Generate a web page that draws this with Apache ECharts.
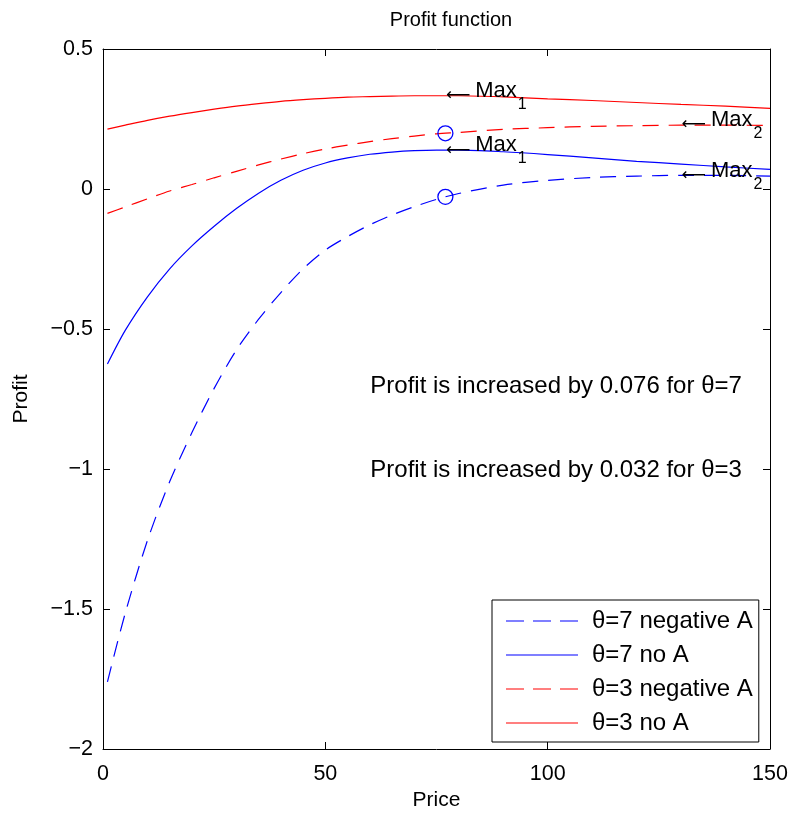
<!DOCTYPE html>
<html><head><meta charset="utf-8">
<script src="https://cdn.jsdelivr.net/npm/echarts@6/dist/echarts.min.js"></script>
<style>html,body{margin:0;padding:0;background:#fff}#c{width:794px;height:813px}</style>
</head><body><div id="c"></div>
<script>
const price = [1,5,10,15,20,25,30,35,40,45,50,55,60,65,70,75,80,90,100,110,120,130,140,150];
const theta7NegA = [-1.76,-1.515,-1.255,-1.045,-0.87,-0.712,-0.575,-0.465,-0.37,-0.285,-0.218,-0.17,-0.128,-0.093,-0.063,-0.037,-0.016,0.014,0.031,0.041,0.046,0.049,0.049,0.046];
const theta7NoA = [-0.625,-0.505,-0.385,-0.285,-0.203,-0.133,-0.07,-0.015,0.031,0.067,0.093,0.111,0.124,0.132,0.137,0.139,0.139,0.133,0.123,0.111,0.099,0.089,0.079,0.070];
const theta3NegA = [-0.087,-0.064,-0.035,-0.007,0.016,0.040,0.063,0.086,0.107,0.126,0.143,0.157,0.169,0.180,0.189,0.197,0.202,0.213,0.219,0.224,0.226,0.228,0.228,0.227];
const theta3NoA = [0.214,0.228,0.245,0.260,0.273,0.285,0.296,0.305,0.313,0.319,0.324,0.328,0.330,0.332,0.333,0.333,0.333,0.329,0.322,0.316,0.309,0.302,0.296,0.288];
const seriesNames = ['\u03b8=7 negative A','\u03b8=7 no A','\u03b8=3 negative A','\u03b8=3 no A'];
const circlePoints = [[77,0.199],[77,-0.028]];
const max1Points = [[77,0.333],[77,0.139]];
const max2Points = [[130,0.229],[130,0.048]];
const notes = [[60,-0.705,'Profit is increased by 0.076 for \u03b8=7'],[60,-1.005,'Profit is increased by 0.032 for \u03b8=3']];
const xTicks = {min:0,max:150,interval:50};
const yTicks = {min:-2,max:0.5,interval:0.5};

const FONT = 'Liberation Sans';
const chart = echarts.init(document.getElementById('c'), null, {renderer:'canvas'});
function pts(ys){ return price.map((p,i)=>[p,ys[i]]); }
const dash = [16,10];
function lineSeries(name, ys, color, dashed){
  return {name, type:'line', data:pts(ys), smooth:0.3, symbol:'none', showSymbol:false,
    lineStyle:{color, width:1.2, type: dashed?dash:'solid'}, itemStyle:{color}, z:3, animation:false};
}
function maxLabel(sub){
  return {show:true, position:'right', distance:0, offset:[0,-5], formatter:'{r|\u27f5}{a|Max}{s|'+sub+'}', color:'#000',
    rich:{r:{fontFamily:'DejaVu Sans',fontSize:17,color:'#000',padding:[10,5,0,0]},
          a:{fontFamily:FONT,fontSize:22,color:'#000'},
          s:{fontFamily:FONT,fontSize:16,color:'#000',padding:[28,0,0,1]}}};
}
const hidden = {color:'rgba(0,0,0,0)', borderWidth:0, opacity:1};
const axisLbl = {fontFamily:FONT,fontSize:21.5,color:'#000'};
const dashIcon = 'path://M0,0H18V1H0Z M27,0H45V1H27Z M54,0H72V1H54Z';
const solidIcon = 'path://M0,0H72V1H0Z';
const option = {
  backgroundColor:'#fff',
  animation:false,
  title:{text:'Profit function', left:446, top:5, textAlign:'center', textStyle:{fontFamily:FONT,fontSize:20,fontWeight:'normal',color:'#000'}},
  grid:{left:103, right:24, top:49, bottom:64, show:false, outerBoundsMode:'none', containLabel:false},
  legend:{orient:'vertical', left:492, top:600,
    data:seriesNames.map((n,i)=>({name:n, icon:(i%2===0?dashIcon:solidIcon)})),
    backgroundColor:'#fff', borderColor:'#000', borderWidth:1,
    padding:[8,6,6,14], itemWidth:72, itemHeight:1.3, itemGap:8, itemStyle:{opacity:1},
    textStyle:{fontFamily:FONT,fontSize:24,color:'#000', lineHeight:26, padding:[0,0,0,9]}},
  xAxis:[
    {type:'value', min:xTicks.min, max:xTicks.max, interval:xTicks.interval, name:'Price', nameLocation:'middle', nameGap:41,
     nameTextStyle:{fontFamily:FONT,fontSize:21,color:'#000'},
     axisLine:{show:true,onZero:false,lineStyle:{color:'#000',width:1}}, axisTick:{show:true,inside:true,length:7,lineStyle:{color:'#000'}},
     axisLabel:{...axisLbl, margin:14}, splitLine:{show:false}},
    {type:'value', position:'top', min:xTicks.min, max:xTicks.max, interval:xTicks.interval,
     axisLine:{show:true,onZero:false,lineStyle:{color:'#000',width:1}}, axisTick:{show:true,inside:true,length:7,lineStyle:{color:'#000'}},
     axisLabel:{show:false}, splitLine:{show:false}}
  ],
  yAxis:[
    {type:'value', min:yTicks.min, max:yTicks.max, interval:yTicks.interval, name:'Profit', nameLocation:'middle', nameGap:71,
     nameTextStyle:{fontFamily:FONT,fontSize:21,color:'#000'},
     axisLine:{show:true,onZero:false,lineStyle:{color:'#000',width:1}}, axisTick:{show:true,inside:true,length:7,lineStyle:{color:'#000'}},
     axisLabel:{...axisLbl, margin:10, formatter:v=>(v<0?'\u2212'+String(-v):String(v))}, splitLine:{show:false}},
    {type:'value', position:'right', min:yTicks.min, max:yTicks.max, interval:yTicks.interval,
     axisLine:{show:true,onZero:false,lineStyle:{color:'#000',width:1}}, axisTick:{show:true,inside:true,length:7,lineStyle:{color:'#000'}},
     axisLabel:{show:false}, splitLine:{show:false}}
  ],
  series:[
    lineSeries(seriesNames[0], theta7NegA, '#0000ff', true),
    lineSeries(seriesNames[1], theta7NoA, '#0000ff', false),
    lineSeries(seriesNames[2], theta3NegA, '#ff0000', true),
    lineSeries(seriesNames[3], theta3NoA, '#ff0000', false),
    {type:'scatter', data:circlePoints, symbol:'circle', symbolSize:15, itemStyle:{color:'rgba(0,0,0,0)', borderColor:'#0000ff', borderWidth:1.3, opacity:1}, z:4, silent:true},
    {type:'scatter', data:max1Points, symbol:'circle', symbolSize:1, itemStyle:hidden, label:maxLabel('1'), z:5, silent:true},
    {type:'scatter', data:max2Points, symbol:'circle', symbolSize:1, itemStyle:hidden, label:maxLabel('2'), z:5, silent:true},
    {type:'scatter', data:notes.map(n=>[n[0],n[1]]), symbol:'circle', symbolSize:1, itemStyle:hidden, z:5, silent:true,
     label:{show:true, position:'right', distance:0, formatter:p=>notes[p.dataIndex][2], fontFamily:FONT, fontSize:24, color:'#000'}}
  ]
};
chart.setOption(option);
</script></body></html>
